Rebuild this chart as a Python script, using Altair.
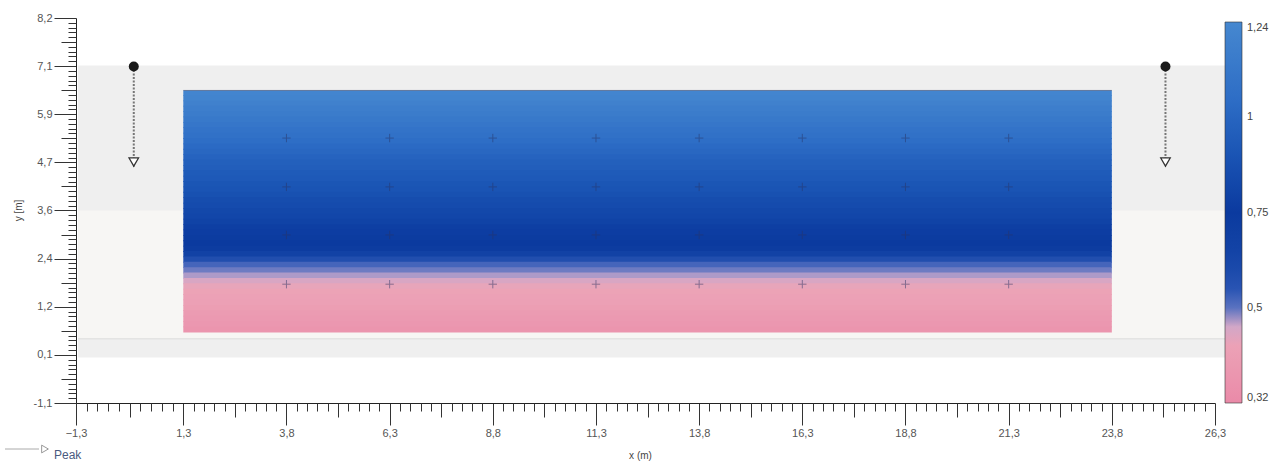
import json
import altair as alt
import numpy as np
import pandas as pd

# ---------------- data ----------------
x_tick_values = [-1.3, 1.3, 3.8, 6.3, 8.8, 11.3, 13.8, 16.3, 18.8, 21.3, 23.8, 26.3]
y_tick_values = [-1.1, 0.0625, 1.225, 2.3875, 3.55, 4.7125, 5.875, 7.0375, 8.2]
y_tick_labels = ["-1,1", "0,1", "1,2", "2,4", "3,6", "4,7", "5,9", "7,1", "8,2"]

# colour bar: its labelled values are equally spaced along the bar
colorbar_values = [0.32, 0.5, 0.75, 1.0, 1.24]
colorbar_labels = ["0,32", "0,5", "0,75", "1", "1,24"]
color_domain = [0.32, 0.44, 0.47, 0.5, 0.53, 0.62, 0.75, 0.9, 1.05, 1.24]
color_range = ["#ea8aa8", "#eca4b7", "#cba8cb", "#5a72c0", "#2f58b6",
               "#1546a8", "#0b3a9f", "#1a54b4", "#2e6ec6", "#4688d0"]

heat_x = [1.3, 23.8]
heat_y_top = 6.45
heat_y_bottom = 0.6
# one value per horizontal band, from top to bottom
heat_values = [1.22, 1.21, 1.19, 1.17, 1.15, 1.13, 1.11, 1.09, 1.07, 1.05,
               1.03, 1.01, 0.99, 0.97, 0.96, 0.94, 0.93, 0.91, 0.90, 0.88,
               0.86, 0.85, 0.83, 0.82, 0.80, 0.78, 0.77, 0.76, 0.75, 0.73,
               0.66, 0.58, 0.515, 0.495, 0.478, 0.458, 0.445, 0.435, 0.428, 0.42,
               0.41, 0.40, 0.39, 0.38, 0.37]

sensor_x = [3.8, 6.3, 8.8, 11.3, 13.8, 16.3, 18.8, 21.3]
sensor_y = [5.3, 4.12, 2.96, 1.77]

probe_x = [0.1, 25.1]
probe_top = 7.03
probe_bottom = 4.72

panel_x = [-1.25, 26.95]
panel_y = [0.0, 7.05]
band_y = [0.45, 3.55]

# ---------------- tables ----------------
bar_pos = list(range(len(colorbar_values)))


def to_bar(v):
    return np.interp(v, colorbar_values, bar_pos)


n = len(heat_values)
h = (heat_y_top - heat_y_bottom) / n
heat_df = pd.DataFrame({
    "x0": heat_x[0], "x1": heat_x[1],
    "y1": [min(heat_y_top, heat_y_top - i * h + 0.02) for i in range(n)],
    "y0": [heat_y_top - (i + 1) * h for i in range(n)],
    "v": heat_values,
})
heat_df["c"] = to_bar(heat_df["v"].to_numpy())

sensor_df = pd.DataFrame([(sx, sy) for sy in sensor_y for sx in sensor_x], columns=["x", "y"])
probe_df = pd.DataFrame({"x": probe_x, "top": probe_top, "bottom": probe_bottom})
panel_df = pd.DataFrame({"x0": [panel_x[0]], "x1": [panel_x[1]], "y0": [panel_y[0]], "y1": [panel_y[1]]})
band_df = pd.DataFrame({"x0": [panel_x[0]], "x1": [panel_x[1]], "y0": [band_y[0]], "y1": [band_y[1]]})


def subdivide(vals, parts):
    minor, medium = [], []
    for a, b in zip(vals[:-1], vals[1:]):
        for k in range(1, parts):
            v = round(a + (b - a) * k / parts, 5)
            (medium if k == parts // 2 else minor).append(v)
    return minor, medium


x_minor, x_medium = subdivide(x_tick_values, 10)
y_minor, y_medium = subdivide(y_tick_values, 10)

xs = alt.Scale(domain=[-1.3, 26.3], nice=False, zero=False)
ys = alt.Scale(domain=[-1.1, 8.2], nice=False, zero=False)

FONT = "Liberation Sans"
TICK = "#333333"

x_major_axis = alt.Axis(
    values=x_tick_values, orient="bottom", grid=False,
    labelExpr="replace(format(datum.value, '.1f'), '.', ',')",
    tickSize=22, tickColor=TICK, domainColor="#222222", domainWidth=1,
    labelColor="#555555", labelFont=FONT, labelFontSize=11, labelPadding=2,
    labelFlush=False, labelOverlap=False,
    title="x (m)", titleFont=FONT, titleFontSize=10, titleFontWeight="normal",
    titleColor="#444444", titleX=564, titleY=52, titleBaseline="middle",
)
y_major_axis = alt.Axis(
    values=y_tick_values, orient="left", grid=False,
    labelExpr=f"{json.dumps(y_tick_labels)}[indexof({json.dumps(y_tick_values)}, datum.value)]",
    tickSize=22, tickColor=TICK, domainColor="#222222", domainWidth=1,
    labelColor="#555555", labelFont=FONT, labelFontSize=11, labelPadding=2,
    labelFlush=False, labelOverlap=False,
    title="y [m]", titleFont=FONT, titleFontSize=10, titleFontWeight="normal",
    titleColor="#444444", titleX=-58, titleY=192, titleAngle=-90,
    titleBaseline="middle", titleAlign="center",
)


def tick_axis(values, orient, size):
    return alt.Axis(values=values, orient=orient, grid=False, labels=False,
                    domain=False, tickSize=size, tickColor=TICK, title="")


# ---------------- layers ----------------
panel = alt.Chart(panel_df).mark_rect(color="#efefef").encode(
    x=alt.X("x0:Q", scale=xs, axis=x_major_axis), x2="x1:Q",
    y=alt.Y("y0:Q", scale=ys, axis=y_major_axis), y2="y1:Q",
)
band = alt.Chart(band_df).mark_rect(color="#f7f6f4").encode(
    x=alt.X("x0:Q", scale=xs, axis=tick_axis(x_medium, "bottom", 14)), x2="x1:Q",
    y=alt.Y("y0:Q", scale=ys, axis=tick_axis(y_medium, "left", 15)), y2="y1:Q",
)
band_line = alt.Chart(band_df).mark_rule(color="#dcdcdc", strokeWidth=1).encode(
    x=alt.X("x0:Q", scale=xs, axis=tick_axis(x_minor, "bottom", 8)), x2="x1:Q",
    y=alt.Y("y0:Q", scale=ys, axis=tick_axis(y_minor, "left", 8)),
)

cscale = alt.Scale(domain=[float(d) for d in to_bar(np.array(color_domain))],
                   range=color_range, interpolate="rgb")
heat = alt.Chart(heat_df).mark_rect().encode(
    x=alt.X("x0:Q", scale=xs, axis=None), x2="x1:Q",
    y=alt.Y("y0:Q", scale=ys, axis=None), y2="y1:Q",
    color=alt.Color("c:Q", scale=cscale, legend=alt.Legend(
        type="gradient", orient="none", legendX=1149, legendY=4, direction="vertical",
        gradientLength=381, gradientThickness=17, values=bar_pos,
        labelExpr=f"{json.dumps(colorbar_labels)}[datum.value]", title=None,
        labelFont=FONT, labelFontSize=11, labelColor="#444444", labelOffset=5,
        labelBaseline="middle", gradientStrokeColor="#333333", gradientStrokeWidth=0.6,
    )),
)
heat_top_edge = alt.Chart(heat_df.head(1)).mark_rule(color="#3a4a70", strokeWidth=1, opacity=0.6).encode(
    x=alt.X("x0:Q", scale=xs, axis=None), x2="x1:Q",
    y=alt.Y("y1:Q", scale=ys, axis=None),
)

sensors = alt.Chart(sensor_df).mark_point(
    shape="M-1,0H1M0,-1V1", size=70, filled=False, stroke="#2a3566",
    strokeWidth=1, opacity=0.5,
).encode(
    x=alt.X("x:Q", scale=xs, axis=None),
    y=alt.Y("y:Q", scale=ys, axis=None),
)

probe_line = alt.Chart(probe_df).mark_rule(
    color="#777777", strokeWidth=2, strokeDash=[2, 1.5]
).encode(
    x=alt.X("x:Q", scale=xs, axis=None),
    y=alt.Y("top:Q", scale=ys, axis=None), y2="bottom:Q",
)
probe_dot = alt.Chart(probe_df).mark_point(
    shape="circle", size=100, filled=True, color="#1a1a1a", opacity=1
).encode(
    x=alt.X("x:Q", scale=xs, axis=None),
    y=alt.Y("top:Q", scale=ys, axis=None),
)
probe_tri = alt.Chart(probe_df).mark_point(
    shape="triangle-down", size=90, filled=True, fill="#ffffff",
    stroke="#333333", strokeWidth=1.3, opacity=1,
).encode(
    x=alt.X("x:Q", scale=xs, axis=None),
    y=alt.Y("bottom:Q", scale=ys, axis=None),
)
probe_stem = alt.Chart(probe_df).mark_rule(color="#333333", strokeWidth=1).encode(
    x=alt.X("x:Q", scale=xs, axis=None),
    y=alt.Y("bottom:Q", scale=ys, axis=None),
    y2=alt.value(149),
)

peak_line = alt.Chart(pd.DataFrame({"k": ["Peak"]})).mark_rule(
    color="#aaaaaa", strokeWidth=1
).encode(x=alt.value(-71), x2=alt.value(-37), y=alt.value(431))
peak_tri = alt.Chart(pd.DataFrame({"k": ["Peak"]})).mark_point(
    shape="triangle-right", size=60, filled=False, stroke="#999999", strokeWidth=1, opacity=1
).encode(x=alt.value(-31), y=alt.value(431))
peak_text = alt.Chart(pd.DataFrame({"k": ["Peak"]})).mark_text(
    align="left", baseline="middle", font=FONT, fontSize=12, color="#4a5a80"
).encode(x=alt.value(-22), y=alt.value(437), text="k:N")

chart = alt.layer(
    panel, band, band_line, heat, heat_top_edge, sensors, probe_line, probe_stem,
    probe_tri, probe_dot, peak_line, peak_tri, peak_text,
).resolve_axis(
    x="independent", y="independent"
).properties(
    width=1139, height=385,
    padding={"left": 76, "top": 18, "right": 68, "bottom": 63},
    autosize=alt.AutoSizeParams(type="none"),
    background="#ffffff",
).configure_view(stroke=None)

chart.save("out.html", embed_options={"renderer": "svg", "actions": False})
